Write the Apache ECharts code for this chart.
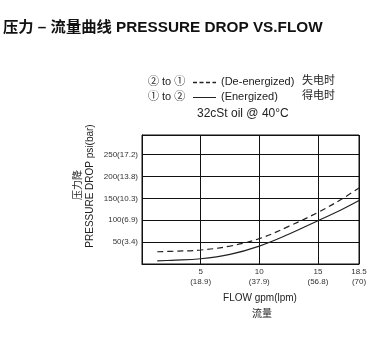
<!DOCTYPE html>
<html><head><meta charset="utf-8">
<script src="https://cdn.jsdelivr.net/npm/echarts@6/dist/echarts.min.js"></script>
<style>html,body{margin:0;padding:0;background:#fff}#c{width:391px;height:339px}</style>
</head><body><div id="c"></div>
<script>
var deEnergized = [[1.3,28],[2.5,29],[5,32],[7.5,41],[10,58],[12.5,86],[15,118],[17,148],[18.5,174]];
var energized = [[1.3,7],[2.5,8.5],[5,12],[7.5,22],[10,41],[12.5,68],[15,99],[17,124],[18.5,145]];
var xTicks = {5:'5\n(18.9)',10:'10\n(37.9)',15:'15\n(56.8)',18.5:'18.5\n(70)'};
var yTicks = {50:'50(3.4)',100:'100(6.9)',150:'150(10.3)',200:'200(13.8)',250:'250(17.2)'};
var FF = '"Liberation Sans", Arial, "Noto Sans CJK SC", sans-serif';
var chart = echarts.init(document.getElementById('c'));
chart.setOption({
  animation:false,
  title:{text:'压力 – 流量曲线 PRESSURE DROP VS.FLOW',left:3,top:20,padding:0,textStyle:{fontFamily:FF,fontSize:15.3,fontWeight:'bold',color:'#111'}},
  grid:{left:142,top:135,width:217,height:129,show:true,borderColor:'#111',borderWidth:1,backgroundColor:'transparent'},
  xAxis:{type:'value',min:0,max:18.5,interval:5,
    axisLine:{show:true,lineStyle:{color:'#111'}},axisTick:{show:false},
    splitLine:{show:true,lineStyle:{color:'#111',width:1}},
    axisLabel:{showMinLabel:false,margin:3,fontFamily:FF,fontSize:8,lineHeight:10,color:'#333',
      formatter:function(v){return xTicks[v]||'';}}},
  yAxis:{type:'value',min:0,max:295,interval:50,
    axisLine:{show:true,lineStyle:{color:'#111'}},axisTick:{show:false},
    splitLine:{show:true,lineStyle:{color:'#111',width:1}},
    axisLabel:{showMinLabel:false,margin:4,fontFamily:FF,fontSize:8,color:'#333',
      formatter:function(v){return yTicks[v]||'';}}},
  series:[
    {type:'line',name:'De-energized',data:deEnergized,smooth:0.4,symbol:'none',
      lineStyle:{color:'#222',width:1.2,type:[6,4]}},
    {type:'line',name:'Energized',data:energized,smooth:0.4,symbol:'none',
      lineStyle:{color:'#222',width:1.2}}
  ],
  graphic:[
    {type:'text',left:148,top:76,style:{text:'② to ①',fontFamily:FF,fontSize:11,fill:'#222'}},
    {type:'line',shape:{x1:193,y1:82.5,x2:216,y2:82.5},style:{stroke:'#222',lineWidth:1.5,lineDash:[4,2.5]}},
    {type:'text',left:221,top:76,style:{text:'(De-energized)',fontFamily:FF,fontSize:11,fill:'#222'}},
    {type:'text',left:302,top:75,style:{text:'失电时',fontFamily:FF,fontSize:11,fill:'#222'}},
    {type:'text',left:148,top:91,style:{text:'① to ②',fontFamily:FF,fontSize:11,fill:'#222'}},
    {type:'line',shape:{x1:193,y1:97.5,x2:216,y2:97.5},style:{stroke:'#222',lineWidth:1}},
    {type:'text',left:221,top:91,style:{text:'(Energized)',fontFamily:FF,fontSize:11,fill:'#222'}},
    {type:'text',left:302,top:90,style:{text:'得电时',fontFamily:FF,fontSize:11,fill:'#222'}},
    {type:'text',left:197,top:108,style:{text:'32cSt oil @ 40°C',fontFamily:FF,fontSize:12,fill:'#222'}},
    {type:'text',x:78,y:185,rotation:Math.PI/2,style:{text:'压力降',fontFamily:FF,fontSize:10,fill:'#222',align:'center',verticalAlign:'middle'}},
    {type:'text',x:90,y:186,rotation:Math.PI/2,style:{text:'PRESSURE DROP psi(bar)',fontFamily:FF,fontSize:10,fill:'#222',align:'center',verticalAlign:'middle'}},
    {type:'text',x:260,y:298,style:{text:'FLOW gpm(lpm)',fontFamily:FF,fontSize:10,fill:'#222',align:'center',verticalAlign:'middle'}},
    {type:'text',x:262,y:314,style:{text:'流量',fontFamily:FF,fontSize:10,fill:'#222',align:'center',verticalAlign:'middle'}}
  ]
});
</script></body></html>
